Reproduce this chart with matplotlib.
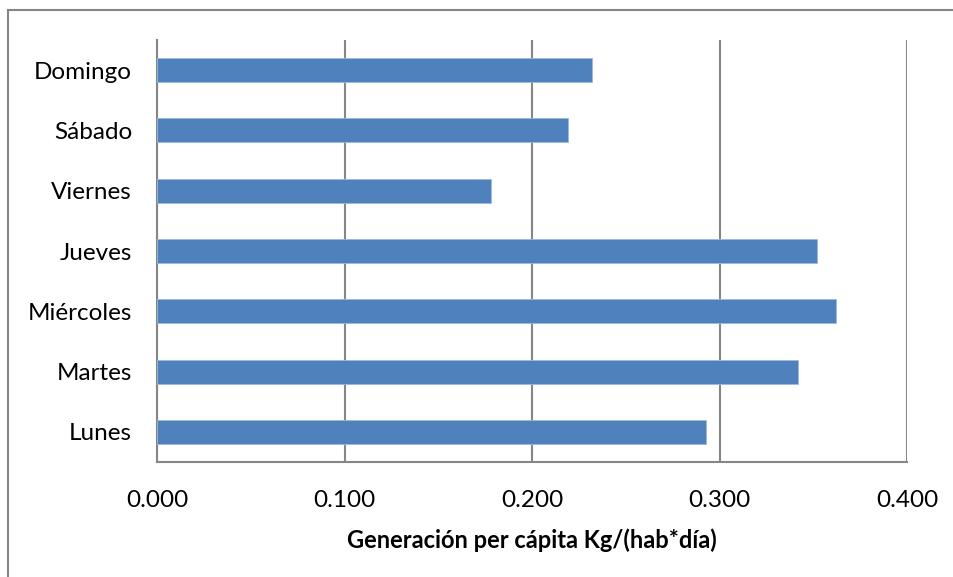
import matplotlib.pyplot as plt
from matplotlib.lines import Line2D

# Generación per cápita por día de la semana
dias = ['Lunes', 'Martes', 'Miércoles', 'Jueves', 'Viernes', 'Sábado', 'Domingo']
generacion = [0.293, 0.342, 0.362, 0.352, 0.178, 0.219, 0.232]
xticks = [0.0, 0.1, 0.2, 0.3, 0.4]

plt.rcParams['font.family'] = ['Lato', 'DejaVu Sans']

fig = plt.figure(figsize=(9.54, 5.77), dpi=100)
ax = fig.add_axes([157 / 954, 1 - 462 / 577, 750 / 954, 422 / 577])

grid_color = '#868686'
ax.barh(dias, generacion, height=0.4, color='#4F81BD', edgecolor='#9DB8DC',
        linewidth=0.6, zorder=3)

ax.set_xlim(0, 0.4)
ax.set_ylim(-0.5, len(dias) - 0.5)
ax.set_xticks(xticks)
ax.set_xticklabels([f'{v:.3f}' for v in xticks])
ax.xaxis.grid(True, color=grid_color, linewidth=1.5, zorder=0)
ax.tick_params(axis='both', length=0, labelsize=17.5)
ax.tick_params(axis='y', pad=18)
ax.tick_params(axis='x', pad=20)

for side in ['top', 'right']:
    ax.spines[side].set_visible(False)
for side in ['left', 'bottom']:
    ax.spines[side].set_color(grid_color)
    ax.spines[side].set_linewidth(1.5)

ax.set_xlabel('Generación per cápita Kg/(hab*día)', fontsize=17,
              fontweight='bold', labelpad=13)

# chart area border
fig.add_artist(Line2D([8 / 954, 8 / 954], [0, 1 - 10 / 577],
                      color=grid_color, linewidth=1.5))
fig.add_artist(Line2D([8 / 954, 1], [1 - 10 / 577, 1 - 10 / 577],
                      color=grid_color, linewidth=1.5))

fig.savefig('out.png', dpi=100, facecolor='white')
